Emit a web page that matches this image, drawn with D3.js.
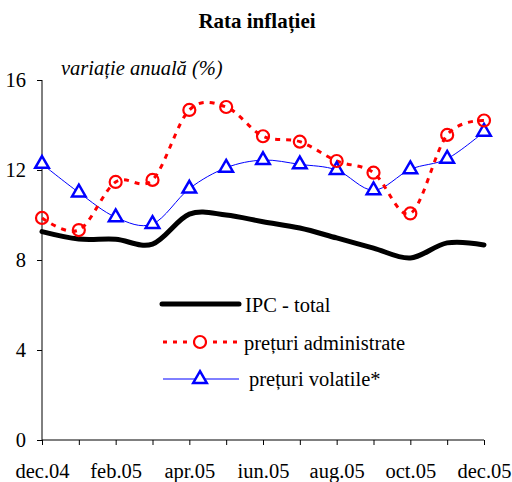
<!DOCTYPE html>
<html>
<head>
<meta charset="utf-8">
<script src="https://cdn.jsdelivr.net/npm/d3@7"></script>
<style>
body { margin: 0; background: #fff; }
svg text { font-family: "Liberation Serif", "Times New Roman", serif; }
</style>
</head>
<body>
<script>
var width = 512, height = 482;

var months = ["dec.04","ian.05","feb.05","mar.05","apr.05","mai.05","iun.05",
	"iul.05","aug.05","sep.05","oct.05","nov.05","dec.05"];
var tickMonths = ["dec.04","feb.05","apr.05","iun.05","aug.05","oct.05","dec.05"];
var ipcTotal = [9.26, 8.93, 8.92, 8.71, 10.04, 10.0, 9.7, 9.42, 8.98, 8.53, 8.09, 8.76, 8.67];
var administrate = [9.87, 9.33, 11.47, 11.56, 14.67, 14.8, 13.5, 13.26, 12.4, 11.88, 10.07, 13.56, 14.2];
var volatile = [12.27, 11.0, 9.9, 9.6, 11.17, 12.1, 12.44, 12.25, 12.0, 11.1, 12.03, 12.5, 13.7];
var yTicks = [0, 4, 8, 12, 16];

var svg = d3.select("body")
	.append("svg")
	.attr("width", width)
	.attr("height", height);

var x = d3.scalePoint()
	.domain(months)
	.range([42, 484]);

var y = d3.scaleLinear()
	.domain([0, 16])
	.range([440, 80]);

// title
svg.append("text")
	.attr("x", 257)
	.attr("y", 28)
	.attr("text-anchor", "middle")
	.attr("font-weight", "bold")
	.attr("font-size", 21)
	.text("Rata inflației");

svg.append("text")
	.attr("x", 61)
	.attr("y", 75)
	.attr("font-style", "italic")
	.attr("font-size", 20.5)
	.text("variație anuală (%)");

// axes
var yAxis = svg.append("g")
	.attr("transform", "translate(42,0)")
	.call(d3.axisLeft(y).tickValues(yTicks).tickSize(5).tickPadding(11));

var xAxis = svg.append("g")
	.attr("transform", "translate(0,440)")
	.call(d3.axisBottom(x).tickSize(5).tickPadding(18)
		.tickFormat(function(d) { return tickMonths.indexOf(d) >= 0 ? d : ""; }));

svg.selectAll(".domain").attr("stroke", "#000").attr("stroke-width", 1);
yAxis.selectAll(".domain").attr("d", "M0,80V440");
xAxis.selectAll(".domain").attr("d", "M42,0H484");
svg.selectAll(".tick line").attr("stroke", "#000");
svg.selectAll(".tick text")
	.attr("font-family", "Liberation Serif, Times New Roman, serif")
	.attr("font-size", 20.5)
	.attr("fill", "#000");

var smooth = d3.line()
	.x(function(d, i) { return x(months[i]); })
	.y(function(d) { return y(d); })
	.curve(d3.curveCardinal.tension(0));

// IPC total
svg.append("path")
	.attr("d", smooth(ipcTotal))
	.attr("fill", "none")
	.attr("stroke", "#000")
	.attr("stroke-width", 5)
	.attr("stroke-linecap", "round");

// preturi volatile
svg.append("path")
	.attr("d", smooth(volatile))
	.attr("fill", "none")
	.attr("stroke", "#0000ff")
	.attr("stroke-width", 1);

// preturi administrate
svg.append("path")
	.attr("d", smooth(administrate))
	.attr("fill", "none")
	.attr("stroke", "#ff0000")
	.attr("stroke-width", 3)
	.attr("stroke-dasharray", "5,6");

var tri = d3.symbol().type(d3.symbolTriangle).size(80);

svg.selectAll(".vol")
	.data(volatile)
	.enter()
	.append("path")
	.attr("class", "vol")
	.attr("transform", function(d, i) { return "translate(" + x(months[i]) + "," + y(d) + ")"; })
	.attr("d", tri)
	.attr("fill", "#fff")
	.attr("stroke", "#0000ff")
	.attr("stroke-width", 2.5);

svg.selectAll(".adm")
	.data(administrate)
	.enter()
	.append("circle")
	.attr("class", "adm")
	.attr("cx", function(d, i) { return x(months[i]); })
	.attr("cy", function(d) { return y(d); })
	.attr("r", 6)
	.attr("fill", "none")
	.attr("stroke", "#ff0000")
	.attr("stroke-width", 2.2);

// legend
var legend = svg.append("g");

legend.append("line")
	.attr("x1", 162).attr("x2", 239)
	.attr("y1", 304).attr("y2", 304)
	.attr("stroke", "#000")
	.attr("stroke-width", 5)
	.attr("stroke-linecap", "round");
legend.append("text")
	.attr("x", 245).attr("y", 312)
	.attr("font-size", 20.5)
	.text("IPC - total");

legend.append("line")
	.attr("x1", 163).attr("x2", 239)
	.attr("y1", 342).attr("y2", 342)
	.attr("stroke", "#ff0000")
	.attr("stroke-width", 3)
	.attr("stroke-dasharray", "4,6");
legend.append("circle")
	.attr("cx", 200).attr("cy", 342).attr("r", 6)
	.attr("fill", "#fff")
	.attr("stroke", "#ff0000")
	.attr("stroke-width", 2.2);
legend.append("text")
	.attr("x", 244).attr("y", 350)
	.attr("font-size", 20.5)
	.text("prețuri administrate");

legend.append("line")
	.attr("x1", 163).attr("x2", 239)
	.attr("y1", 379).attr("y2", 379)
	.attr("stroke", "#0000ff")
	.attr("stroke-width", 1);
legend.append("path")
	.attr("transform", "translate(200,379)")
	.attr("d", tri)
	.attr("fill", "#fff")
	.attr("stroke", "#0000ff")
	.attr("stroke-width", 2.5);
legend.append("text")
	.attr("x", 249).attr("y", 386)
	.attr("font-size", 20.5)
	.text("prețuri volatile*");
</script>
</body>
</html>
